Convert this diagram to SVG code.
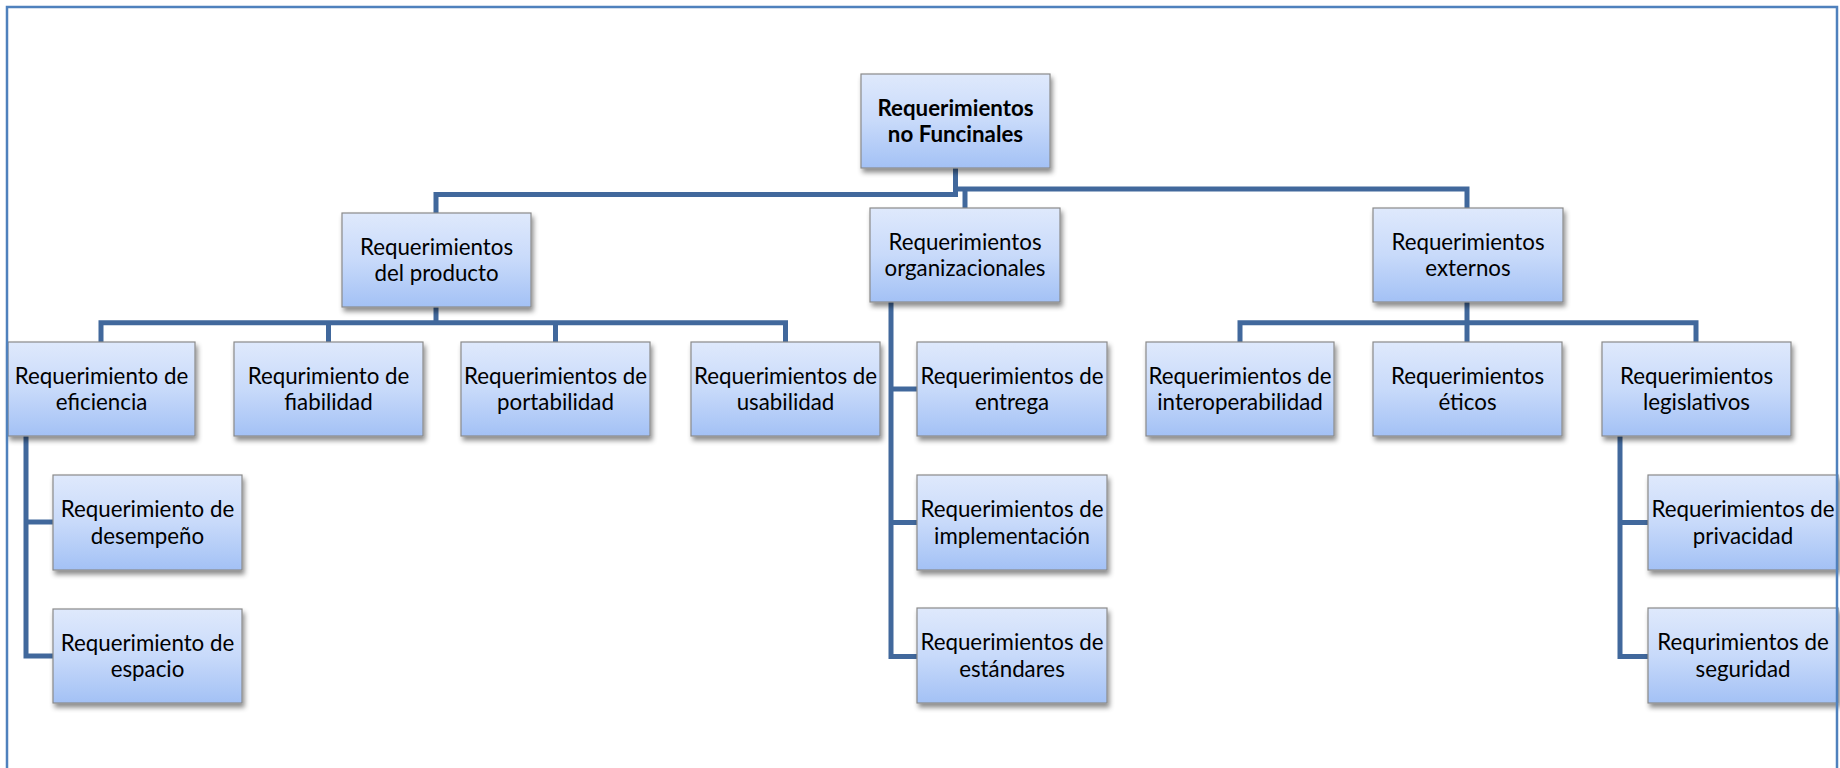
<svg xmlns="http://www.w3.org/2000/svg" width="1840" height="768" viewBox="0 0 1840 768">
<defs>
<linearGradient id="g" x1="0" y1="0" x2="0" y2="1">
<stop offset="0" stop-color="#dfe9fc"/>
<stop offset="0.5" stop-color="#c8dafa"/>
<stop offset="1" stop-color="#a3c1f5"/>
</linearGradient>
<filter id="sh" x="-10%" y="-10%" width="125%" height="130%">
<feDropShadow dx="2" dy="4" stdDeviation="2.5" flood-color="#000" flood-opacity="0.45"/>
</filter>
</defs>
<style>
.box{fill:url(#g);stroke:#8a8a8a;stroke-width:1.2;filter:url(#sh)}
.t{font-family:Lato,"Liberation Sans",sans-serif;font-size:22.3px;fill:#000;text-anchor:middle}
.b{font-weight:bold}
.c{fill:none;stroke:#41689c;stroke-width:5;stroke-linejoin:miter}
</style>
<rect width="1840" height="768" fill="#fff"/>
<g id="connectors">
<path class="c" d="M955.5 168 V194.5 H436 V213"/>
<path class="c" d="M957.5 189 H1467 V208"/>
<path class="c" d="M965 189 V208"/>
<path class="c" d="M436 307 V322.7"/>
<path class="c" d="M101 342 V322.7 H785.5 V342"/>
<path class="c" d="M328.5 322.7 V342"/>
<path class="c" d="M555.5 322.7 V342"/>
<path class="c" d="M26 436 V656 H53"/>
<path class="c" d="M26 522 H53"/>
<path class="c" d="M891 302 V656.5 H917"/>
<path class="c" d="M891 389 H917"/>
<path class="c" d="M891 522.5 H917"/>
<path class="c" d="M1467 302 V322.7"/>
<path class="c" d="M1240 342 V322.7 H1696 V342"/>
<path class="c" d="M1467 322.7 V342"/>
<path class="c" d="M1620 436 V656.5 H1648"/>
<path class="c" d="M1620 522.5 H1648"/>
</g>
<g id="root"><rect class="box" x="861" y="74" width="189" height="94"/><text class="t b" x="955.5" y="116">Requerimientos</text><text class="t b" x="955.5" y="142">no Funcinales</text></g>
<g id="producto"><rect class="box" x="342" y="213" width="189" height="94"/><text class="t" x="436.5" y="254.5">Requerimientos</text><text class="t" x="436.5" y="281">del producto</text></g>
<g id="organizacionales"><rect class="box" x="870" y="208" width="190" height="94"/><text class="t" x="965" y="249.5">Requerimientos</text><text class="t" x="965" y="276">organizacionales</text></g>
<g id="externos"><rect class="box" x="1373" y="208" width="190" height="94"/><text class="t" x="1468" y="249.5">Requerimientos</text><text class="t" x="1468" y="276">externos</text></g>
<g id="eficiencia"><rect class="box" x="8" y="342" width="187" height="94"/><text class="t" x="101.5" y="383.5">Requerimiento de</text><text class="t" x="101.5" y="410">eficiencia</text></g>
<g id="fiabilidad"><rect class="box" x="234" y="342" width="189" height="94"/><text class="t" x="328.5" y="383.5">Requrimiento de</text><text class="t" x="328.5" y="410">fiabilidad</text></g>
<g id="portabilidad"><rect class="box" x="461" y="342" width="189" height="94"/><text class="t" x="555.5" y="383.5">Requerimientos de</text><text class="t" x="555.5" y="410">portabilidad</text></g>
<g id="usabilidad"><rect class="box" x="691" y="342" width="189" height="94"/><text class="t" x="785.5" y="383.5">Requerimientos de</text><text class="t" x="785.5" y="410">usabilidad</text></g>
<g id="desempeno"><rect class="box" x="53" y="475" width="189" height="95"/><text class="t" x="147.5" y="517">Requerimiento de</text><text class="t" x="147.5" y="543.5">desempeño</text></g>
<g id="espacio"><rect class="box" x="53" y="609" width="189" height="94"/><text class="t" x="147.5" y="650.5">Requerimiento de</text><text class="t" x="147.5" y="677">espacio</text></g>
<g id="entrega"><rect class="box" x="917" y="342" width="190" height="94"/><text class="t" x="1012" y="383.5">Requerimientos de</text><text class="t" x="1012" y="410">entrega</text></g>
<g id="implementacion"><rect class="box" x="917" y="475" width="190" height="95"/><text class="t" x="1012" y="517">Requerimientos de</text><text class="t" x="1012" y="543.5">implementación</text></g>
<g id="estandares"><rect class="box" x="917" y="608" width="190" height="95"/><text class="t" x="1012" y="650">Requerimientos de</text><text class="t" x="1012" y="676.5">estándares</text></g>
<g id="interoperabilidad"><rect class="box" x="1146" y="342" width="188" height="94"/><text class="t" x="1240" y="383.5">Requerimientos de</text><text class="t" x="1240" y="410">interoperabilidad</text></g>
<g id="eticos"><rect class="box" x="1373" y="342" width="189" height="94"/><text class="t" x="1467.5" y="383.5">Requerimientos</text><text class="t" x="1467.5" y="410">éticos</text></g>
<g id="legislativos"><rect class="box" x="1602" y="342" width="189" height="94"/><text class="t" x="1696.5" y="383.5">Requerimientos</text><text class="t" x="1696.5" y="410">legislativos</text></g>
<g id="privacidad"><rect class="box" x="1648" y="475" width="190" height="95"/><text class="t" x="1743" y="517">Requerimientos de</text><text class="t" x="1743" y="543.5">privacidad</text></g>
<g id="seguridad"><rect class="box" x="1648" y="608" width="190" height="95"/><text class="t" x="1743" y="650">Requrimientos de</text><text class="t" x="1743" y="676.5">seguridad</text></g>
<rect id="frame" x="7" y="7" width="1830" height="800" fill="none" stroke="#4f81bd" stroke-width="2.5"/>
</svg>
